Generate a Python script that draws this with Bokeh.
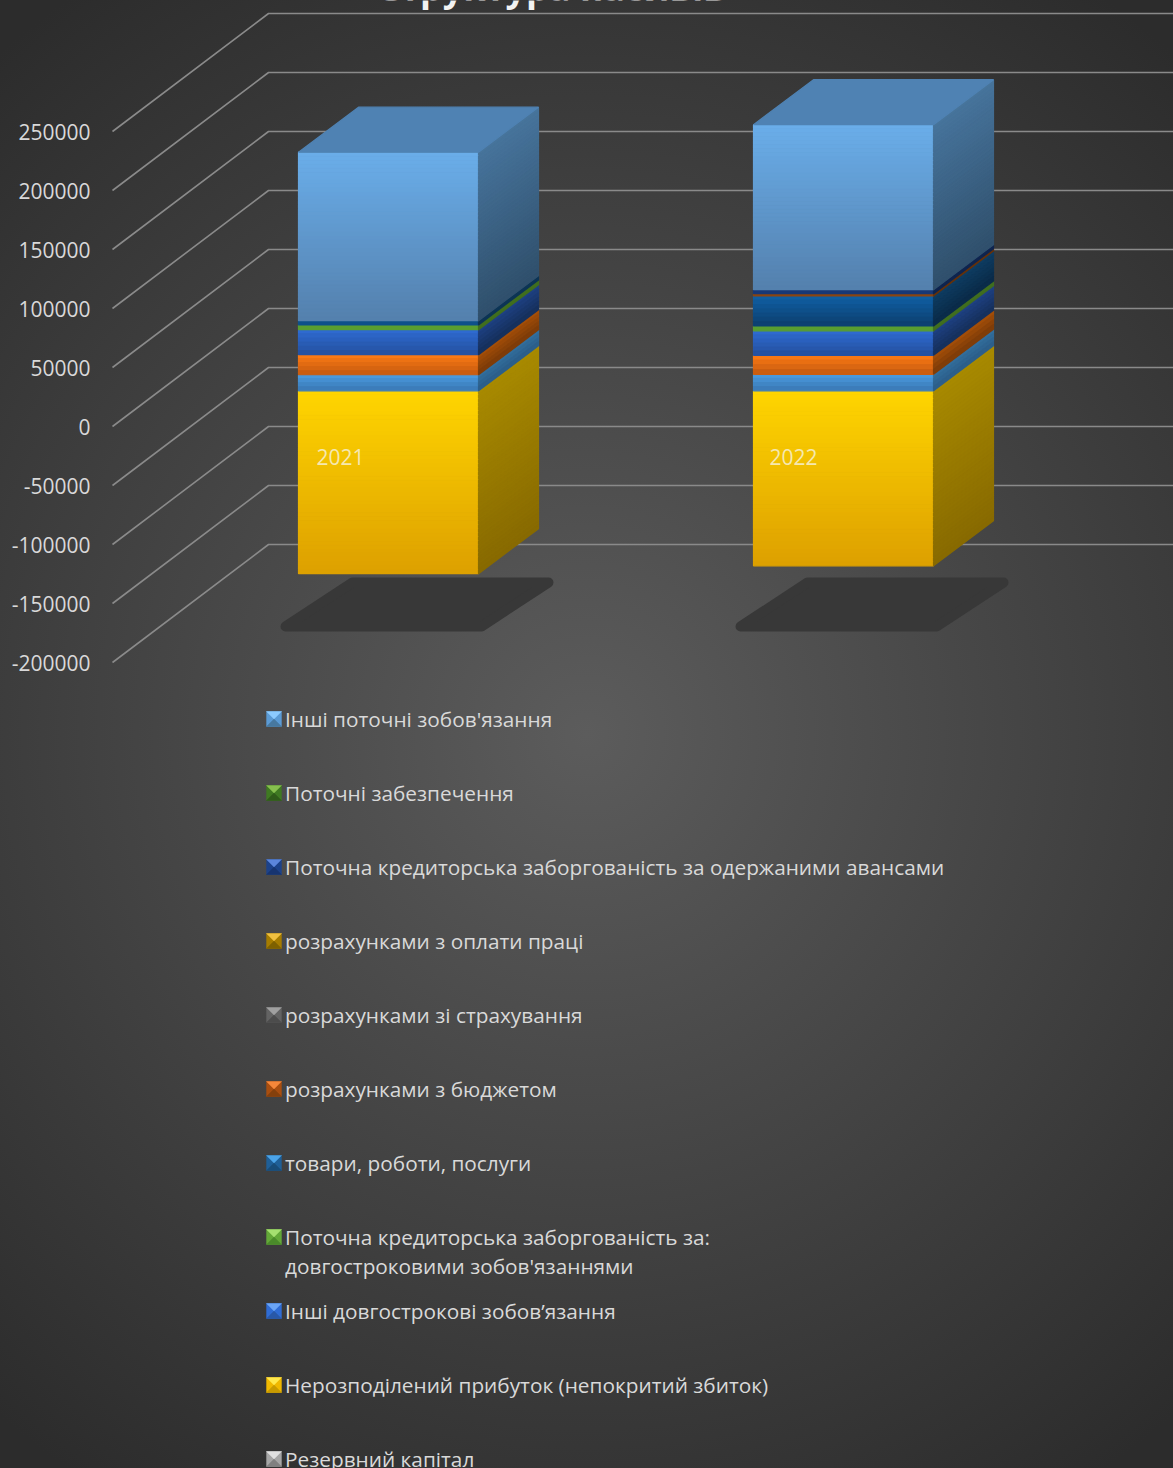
from bokeh.plotting import figure
from bokeh.models import Range1d, FixedTicker
from bokeh.core.properties import value
from bokeh.embed import file_html
from bokeh.resources import INLINE

# ---------- data ----------
title_text = "Структура пасивів"
years = ["2021", "2022"]
ticks = [-200000, -150000, -100000, -50000, 0, 50000, 100000, 150000, 200000, 250000]

# series, bottom of the stack first
registered = [13600, 14000]
additional = [17000, 16100]
reserve = [0, 0]
retained = [-155000, -148300]
other_long = [21200, 20700]
long_term_debt = [4000, 4200]
goods = [3600, 25400]
budget = [0, 1900]
insurance = [0, 0]
wages = [0, 0]
advances = [0, 3400]
provisions = [0, 0]
other_current = [142800, 139800]

stack_values = [registered, additional, reserve, retained, other_long, long_term_debt,
                goods, budget, insurance, wages, advances, provisions, other_current]

# front top, front bottom, side top, side bottom
stack_colors = [
    ("#4b9de2", "#3a78b4", "#33709f", "#2b5d88"),
    ("#ff7c14", "#c45a10", "#a85008", "#7a3a08"),
    ("#a6a6a6", "#7f7f7f", "#666666", "#4d4d4d"),
    ("#ffd500", "#dda000", "#a88a00", "#886a00"),
    ("#2f6cd4", "#24509e", "#1f4284", "#152f5b"),
    ("#66b035", "#4c8c2a", "#4a7f22", "#355e19"),
    ("#0f60a6", "#0d3f6e", "#0e3d63", "#0a2a47"),
    ("#9a4c14", "#7a3c10", "#6e360c", "#5c2c08"),
    ("#6b6b6b", "#555555", "#4a4a4a", "#3a3a3a"),
    ("#a67c00", "#8a6700", "#6e5400", "#5c4600"),
    ("#1c428a", "#142f63", "#10295a", "#0c1f44"),
    ("#3f7a22", "#2f5c19", "#2a5216", "#1e3c10"),
    ("#6aaeea", "#5480ad", "#47749c", "#30506c"),
]
top_color = "#4f82b3"

legend_labels = [
    "Інші поточні зобов'язання",
    "Поточні забезпечення",
    "Поточна кредиторська заборгованість за одержаними авансами",
    "розрахунками з оплати праці",
    "розрахунками зі страхування",
    "розрахунками з бюджетом",
    "товари, роботи, послуги",
    "Поточна кредиторська заборгованість за:\nдовгостроковими зобов'язаннями",
    "Інші довгострокові зобов’язання",
    "Нерозподілений прибуток (непокритий збиток)",
    "Резервний капітал",
]
# (light, mid, dark) of each legend key
legend_keys = [
    ("#8ccbff", "#5b9bd5", "#47789f"),
    ("#86c04e", "#3f7a22", "#2f5c19"),
    ("#5b86dc", "#1c428a", "#163470"),
    ("#f0c040", "#a67c00", "#7e6000"),
    ("#a0a0a0", "#636363", "#4c4c4c"),
    ("#f5873a", "#a84e10", "#84400c"),
    ("#4ba3e8", "#1f5f97", "#184c78"),
    ("#a5e070", "#63a838", "#4a8a2a"),
    ("#6ba5f5", "#2f6cd4", "#2858a8"),
    ("#ffe84d", "#f0b800", "#c89a00"),
    ("#e0e0e0", "#a6a6a6", "#808080"),
]

# ---------- layout ----------
W, H = 1173, 1468
AXIS_ZERO = 426.0
PER_PX = 50000 / 59.0


def vy(px):
    return (AXIS_ZERO - px) * PER_PX


WALL_DX, WALL_DY = 156.0, 118.0 * PER_PX
BAR_LIFT = 35.7 * PER_PX
BAR_W, BAR_DX, BAR_DY = 180.0, 60.0, 45.0 * PER_PX
BAR_X = [298.0, 753.0]
YEAR_X = [316.0, 769.0]
FONT = value("Open Sans")

p = figure(width=W, height=H, output_backend="svg", toolbar_location=None,
           x_range=Range1d(100, W), y_range=Range1d(vy(H), vy(0)),
           x_axis_location=None, min_border_left=100, min_border_right=0,
           min_border_top=0, min_border_bottom=0,
           border_fill_color=None, background_fill_color=None, outline_line_color=None)
p.styles = {"background": "radial-gradient(circle 900px at 50% 50%, #5c5c5c 0%, #2c2c2c 100%)"}
p.grid.visible = False

ax = p.yaxis[0]
ax.ticker = FixedTicker(ticks=ticks)
ax.major_label_overrides = {t: str(t) for t in ticks}
ax.axis_line_color = None
ax.major_tick_line_color = None
ax.minor_tick_line_color = None
ax.major_label_standoff = 4
ax.major_label_text_color = "#d9d9d9"
ax.major_label_text_font = "Open Sans"
ax.major_label_text_font_size = "21px"

# walls
p.multi_line([[112, 112 + WALL_DX, W] for _ in ticks],
             [[t, t + WALL_DY, t + WALL_DY] for t in ticks],
             line_color="#8a8a8a", line_width=1.6)

# floor shadows
for x0 in BAR_X:
    p.patch([x0 - 13, x0 + 54, x0 + 250, x0 + 183],
            [vy(626), vy(582), vy(582), vy(626)],
            fill_color="#383838", line_color="#383838", line_width=10, line_join="round")


def mix(c1, c2, t):
    a = [int(c1[i:i + 2], 16) for i in (1, 3, 5)]
    b = [int(c2[i:i + 2], 16) for i in (1, 3, 5)]
    return "#%02x%02x%02x" % tuple(round(a[k] + (b[k] - a[k]) * t) for k in range(3))


def add_segment(x0, lo, hi, cols, store):
    """lo, hi: values already lifted onto the bars' front plane."""
    height_px = (hi - lo) / PER_PX
    n = max(1, int(height_px / 4))
    for k in range(n):
        y1 = hi - (hi - lo) * k / n
        y2 = hi - (hi - lo) * (k + 1) / n
        t = (k + 0.5) / n
        cf, cs = mix(cols[0], cols[1], t), mix(cols[2], cols[3], t)
        store.append(([x0, x0 + BAR_W, x0 + BAR_W, x0], [y1, y1, y2, y2], cf))
        store.append(([x0 + BAR_W, x0 + BAR_W + BAR_DX, x0 + BAR_W + BAR_DX, x0 + BAR_W],
                      [y1, y1 + BAR_DY, y2 + BAR_DY, y2], cs))


quads = []
for b, x0 in enumerate(BAR_X):
    neg = 0.0
    for s, vals in enumerate(stack_values):
        v = vals[b]
        if v < 0:
            add_segment(x0, neg + v + BAR_LIFT, neg + BAR_LIFT, stack_colors[s], quads)
            neg += v
    pos = 0.0
    for s, vals in enumerate(stack_values):
        v = vals[b]
        if v > 0:
            add_segment(x0, pos + BAR_LIFT, pos + v + BAR_LIFT, stack_colors[s], quads)
            pos += v
    top = pos + BAR_LIFT
    quads.append(([x0, x0 + BAR_W, x0 + BAR_W + BAR_DX, x0 + BAR_DX],
                  [top, top, top + BAR_DY, top + BAR_DY], top_color))

p.patches([q[0] for q in quads], [q[1] for q in quads],
          fill_color=[q[2] for q in quads], line_color=[q[2] for q in quads], line_width=1.2)

# year labels
p.text(YEAR_X, [vy(456.5)] * 2, text=years, text_color="#f5e8b0",
       text_font=FONT, text_font_size="21px", text_baseline="middle", text_align="left")

# title (cut by the top of the picture)
p.text([551], [vy(11)], text=[title_text], text_color="#f2f2f2", text_font=FONT,
       text_font_style="bold", text_font_size="36px", text_align="center",
       text_baseline="bottom")

# legend
KEY_X, KEY_S, LEG_TOP, LEG_STEP = 266.0, 15.0, 718.0, 74.0
sx, sy, sc = [], [], []
for i, (light, mid, dark) in enumerate(legend_keys):
    cy = LEG_TOP + LEG_STEP * i + 0.5
    l, r, t, bt = KEY_X, KEY_X + KEY_S, vy(cy - KEY_S / 2), vy(cy + KEY_S / 2)
    mx, my = KEY_X + KEY_S / 2, vy(cy)
    sx += [[l, r, r, l], [l, r, mx], [l, r, mx]]
    sy += [[t, t, bt, bt], [bt, bt, my], [t, t, my]]
    sc += [mid, dark, light]
p.patches(sx, sy, fill_color=sc, line_color=sc, line_width=0.4)

tx, ty, tt = [], [], []
for i, lab in enumerate(legend_labels):
    for j, part in enumerate(lab.split("\n")):
        tx.append(284.5)
        ty.append(vy(LEG_TOP + LEG_STEP * i + 29 * j))
        tt.append(part)
p.text(tx, ty, text=tt, text_color="#d9d9d9", text_font=FONT, text_font_size="20.8px",
       text_baseline="middle", text_align="left")

open("out.html", "w").write(file_html(p, INLINE))
